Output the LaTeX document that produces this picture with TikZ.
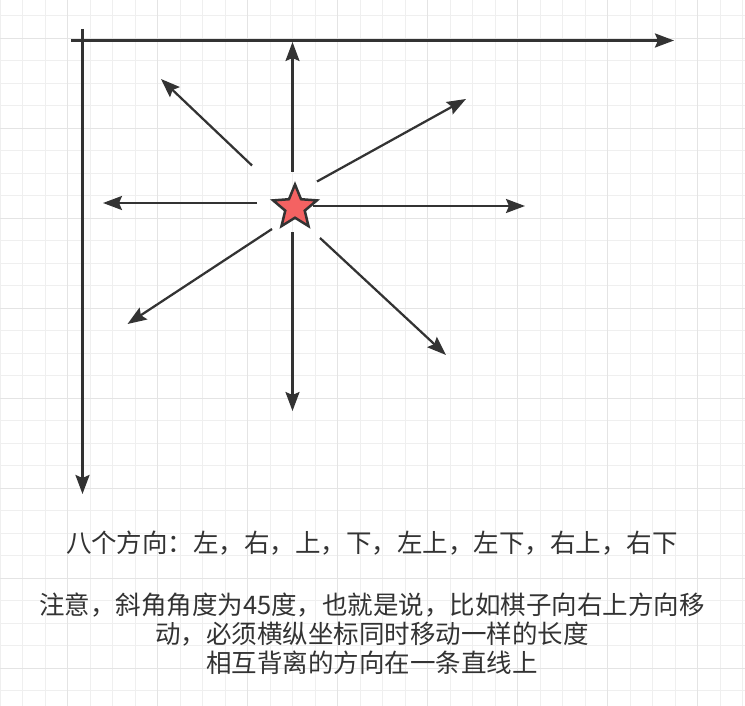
\documentclass[tikz,border=0pt]{standalone}
\usepackage{fontspec}
\newfontfamily\cjk{Noto Sans CJK SC}
\usetikzlibrary{arrows.meta,shapes.geometric}
\definecolor{ink}{HTML}{333333}
\definecolor{gridminor}{HTML}{EFEFEF}
\definecolor{gridmajor}{HTML}{E4E4E4}
\definecolor{starred}{HTML}{F46262}
\begin{document}
\begin{tikzpicture}[x=1pt,y=-1pt,
  arr/.style={draw=ink, line width=2.25pt, -{Stealth[length=19pt,width=14pt,inset=3pt]}},
  axisline/.style={arr, line width=2.5pt},
  lbl/.style={font=\cjk\fontsize{25.5}{29}\selectfont, text=ink, inner sep=0, align=center},
  minorline/.style={draw=gridminor, line width=1pt},
  majorline/.style={draw=gridmajor, line width=1pt}]
\useasboundingbox (0,0) rectangle (745,706);
\fill[white] (0,0) rectangle (745,706);
% grid
\foreach \k in {0,...,33} \draw[minorline] (22.5*\k,0) -- (22.5*\k,706);
\foreach \k in {0,...,30} \draw[minorline] (0,15.7+22.5*\k) -- (745,15.7+22.5*\k);
\foreach \k in {3,7,...,31} \draw[majorline] (22.5*\k,0) -- (22.5*\k,706);
\foreach \k in {1,5,...,29} \draw[majorline] (0,15.7+22.5*\k) -- (745,15.7+22.5*\k);
% axes
\coordinate (vy0) at (82.5,29);
\coordinate (vy1) at (82.5,494);
\coordinate (hx0) at (71,40.5);
\coordinate (hx1) at (674,40.5);
\draw[axisline] (vy0) -- (vy1);
\draw[axisline] (hx0) -- (hx1);
% eight directions
\coordinate (u0) at (292.5,172);   \coordinate (u1) at (292.5,42);
\coordinate (d0) at (292.5,232.5); \coordinate (d1) at (292.5,411);
\coordinate (l0) at (257,203);     \coordinate (l1) at (103,203);
\coordinate (r0) at (313,206);     \coordinate (r1) at (525,206);
\coordinate (ul0) at (252,165.5);  \coordinate (ul1) at (161,79);
\coordinate (ur0) at (317,181.5);  \coordinate (ur1) at (466,99);
\coordinate (dl0) at (272,229);    \coordinate (dl1) at (127.5,324);
\coordinate (dr0) at (320,238);    \coordinate (dr1) at (446,355);
\draw[arr] (u0) -- (u1);
\draw[arr] (d0) -- (d1);
\draw[arr] (l0) -- (l1);
\draw[arr] (r0) -- (r1);
\draw[arr] (ul0) -- (ul1);
\draw[arr] (ur0) -- (ur1);
\draw[arr] (dl0) -- (dl1);
\draw[arr] (dr0) -- (dr1);
% star
\node[star, star points=5, star point ratio=2.25, minimum size=46pt, inner sep=0,
      draw=ink, line width=2.5pt, fill=starred] (piece) at (295,207.5) {};
% texts
\node[lbl, anchor=base] (t1) at (372,552.5) {八个方向：左，右，上，下，左上，左下，右上，右下};
\node[lbl] (t2) at (372,633.5) {注意，斜角角度为45度，也就是说，比如棋子向右上方向移\\动，必须横纵坐标同时移动一样的长度\\相互背离的方向在一条直线上};
\end{tikzpicture}
\end{document}
